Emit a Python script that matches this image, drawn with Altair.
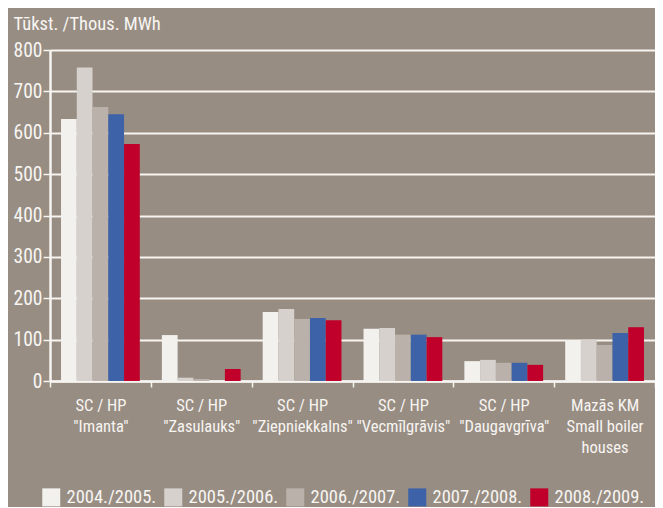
import altair as alt
import pandas as pd

stations = [
    'SC / HP|"Imanta"',
    'SC / HP|"Zasulauks"',
    'SC / HP|"Ziepniekkalns"',
    'SC / HP|"Vecmīlgrāvis"',
    'SC / HP|"Daugavgrīva"',
    'Mazās KM|Small boiler|houses',
]
years = ["2004./2005.", "2005./2006.", "2006./2007.", "2007./2008.", "2008./2009."]
colors = ["#f2f1ee", "#d6d1cc", "#bab2aa", "#3d62a8", "#c0002a"]

v2004 = [633, 111, 167, 126, 48, 99]
v2005 = [758, 8, 174, 128, 51, 100]
v2006 = [662, 5, 150, 112, 44, 87]
v2007 = [645, 0, 152, 112, 44, 116]
v2008 = [573, 29, 147, 106, 39, 130]

series = [v2004, v2005, v2006, v2007, v2008]
rows = []
for y, vals in zip(years, series):
    for s, v in zip(stations, vals):
        rows.append({"station": s, "year": y, "value": v})
df = pd.DataFrame(rows)

FONT = "Roboto Condensed, Noto Sans Condensed, Open Sans Condensed, DejaVu Sans Condensed, Liberation Sans Narrow, Roboto, sans-serif"
WHITE = "#f7f5f2"

chart = alt.Chart(df).mark_bar().encode(
    x=alt.X("station:N", sort=stations,
            scale=alt.Scale(paddingInner=0, paddingOuter=0),
            axis=alt.Axis(title=None, labelAngle=0, tickBand="extent",
                          labelExpr="isValid(datum.value) && datum.value != '' ? split(datum.value, '|') : ''",
                          labelFontSize=16.5, labelColor=WHITE, labelFont=FONT,
                          labelPadding=10, labelLineHeight=21, labelBaseline="top",
                          tickColor=WHITE, tickSize=6, tickWidth=1.5,
                          domainColor=WHITE, domainWidth=2.5, grid=False)),
    xOffset=alt.XOffset("year:N", sort=years,
                        scale=alt.Scale(paddingInner=0, paddingOuter=0.7)),
    y=alt.Y("value:Q", scale=alt.Scale(domain=[0, 800], nice=False),
            axis=alt.Axis(title="Tūkst. /Thous. MWh", titleAngle=0, titleAlign="left",
                          titleBaseline="middle",
                          titleX=-37, titleY=-27, titleFontSize=18.5, titleFontWeight="normal",
                          titleColor=WHITE, titleFont=FONT,
                          values=list(range(0, 801, 100)),
                          labelFontSize=19.5, labelColor=WHITE, labelFont=FONT,
                          labelPadding=1,
                          tickColor=WHITE, tickSize=7, tickWidth=1.5,
                          domainColor=WHITE, domainWidth=2.5,
                          grid=True, gridColor=WHITE, gridWidth=2)),
    color=alt.Color("year:N", sort=years,
                    scale=alt.Scale(domain=years, range=colors),
                    legend=alt.Legend(title=None, orient="none", direction="horizontal",
                                      legendX=-8, legendY=438,
                                      symbolType="square",
                                      symbolSize=324,
                                      symbolStrokeWidth=0, symbolOpacity=1,
                                      labelFontSize=18.5, labelColor=WHITE, labelFont=FONT,
                                      labelOffset=6, columnPadding=7)),
).properties(
    width=605, height=331,
    background="#978d83",
    padding={"left": 42, "top": 42, "right": 0, "bottom": 126},
    autosize=alt.AutoSizeParams(type="none"),
).configure_view(stroke=None)

chart.save("out.html", embed_options={"renderer": "svg", "actions": False})
